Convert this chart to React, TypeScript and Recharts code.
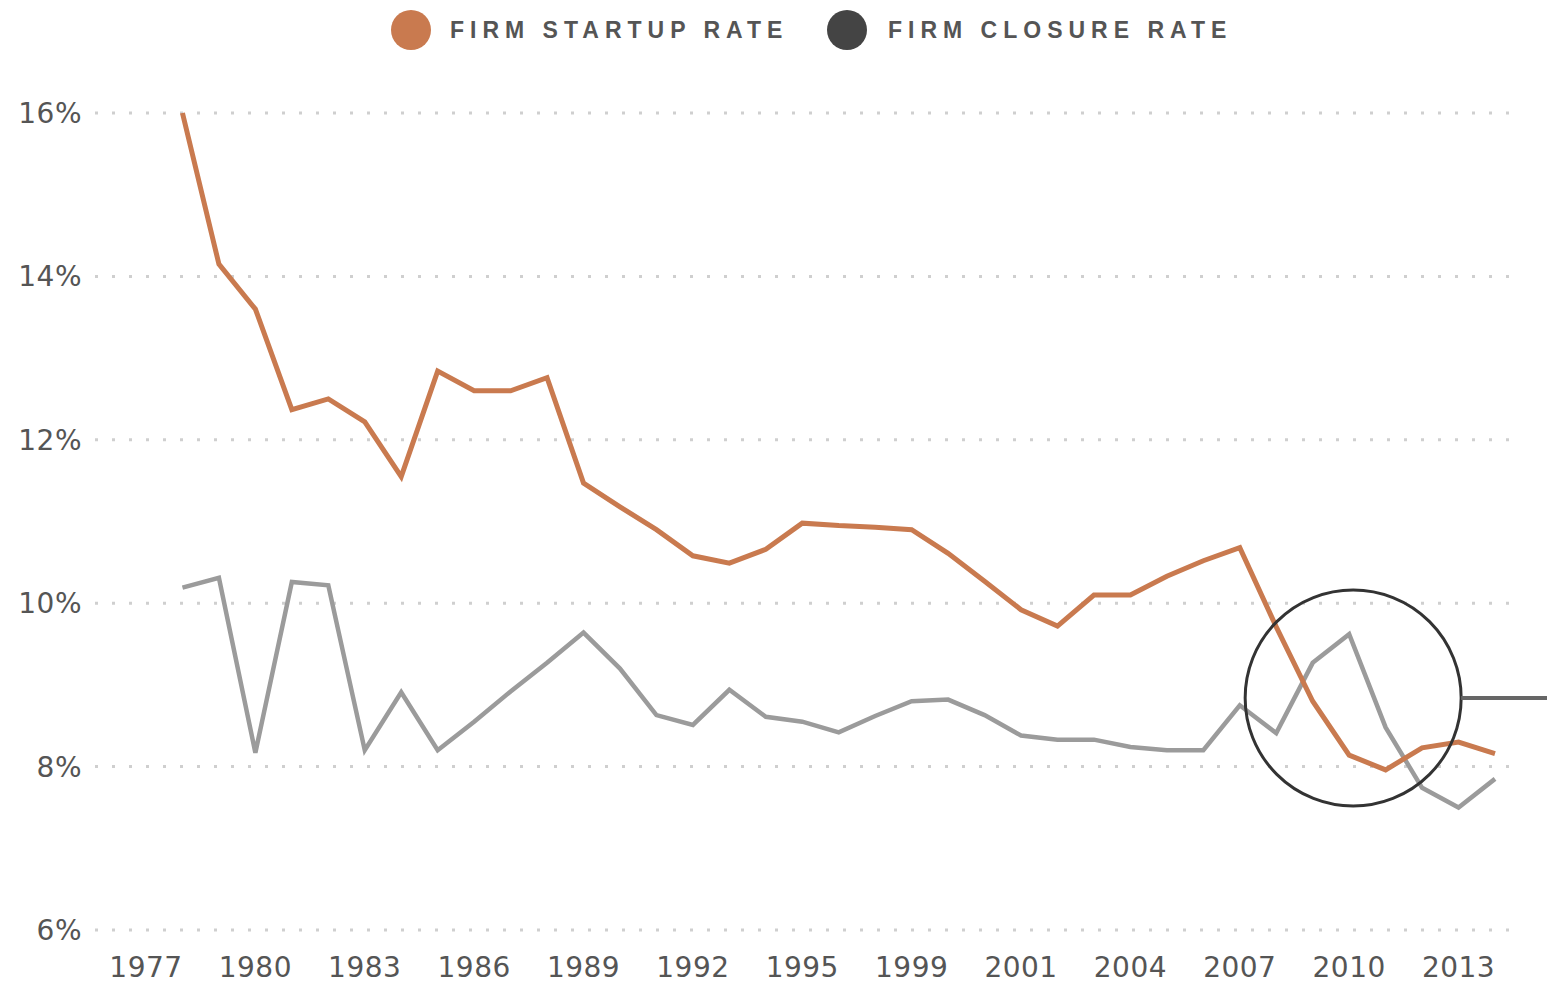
import React from "react";
import { LineChart, Line, XAxis, YAxis, CartesianGrid, Legend, ReferenceDot } from "recharts";

const years = [1977, 1978, 1979, 1980, 1981, 1982, 1983, 1984, 1985, 1986, 1987, 1988, 1989, 1990, 1991, 1992, 1993, 1994, 1995, 1996, 1997, 1998, 1999, 2000, 2001, 2002, 2003, 2004, 2005, 2006, 2007, 2008, 2009, 2010, 2011, 2012, 2013, 2014];

const startupRate = [null, 16.0, 14.15, 13.6, 12.37, 12.5, 12.22, 11.55, 12.84, 12.6, 12.6, 12.76, 11.47, 11.18, 10.9, 10.58, 10.49, 10.66, 10.98, 10.95, 10.93, 10.9, 10.61, 10.27, 9.92, 9.72, 10.1, 10.1, 10.33, 10.52, 10.68, 9.71, 8.8, 8.14, 7.96, 8.23, 8.3, 8.16];

const closureRate = [null, 10.19, 10.31, 8.17, 10.26, 10.22, 8.2, 8.91, 8.2, 8.55, 8.92, 9.27, 9.64, 9.2, 8.63, 8.51, 8.94, 8.61, 8.55, 8.42, 8.62, 8.8, 8.82, 8.63, 8.38, 8.33, 8.33, 8.24, 8.2, 8.2, 8.75, 8.41, 9.27, 9.62, 8.48, 7.74, 7.5, 7.85];

const tickYears = ["1977", "1980", "1983", "1986", "1989", "1992", "1995", "1998", "2001", "2004", "2007", "2010", "2013"];
const tickLabels = ["1977", "1980", "1983", "1986", "1989", "1992", "1995", "1999", "2001", "2004", "2007", "2010", "2013"];
const yTicks = [6, 8, 10, 12, 14, 16];

const seriesNames = ["FIRM STARTUP RATE", "FIRM CLOSURE RATE"];
const ORANGE = "#C97A4F";
const GRAY = "#9B9B9B";
const DARK = "#444444";

const annotation = { year: "2010", value: 8.84 };

const data = years.map((y, i) => ({
  year: String(y),
  startup: startupRate[i],
  closure: closureRate[i],
}));

const labelFont = "'DejaVu Sans', sans-serif";

const XTick = (props: any) => {
  const { x, y, payload } = props;
  const idx = tickYears.indexOf(payload.value);
  const label = idx >= 0 ? tickLabels[idx] : payload.value;
  return (
    <text x={x} y={y + 39} textAnchor="middle" fill="#555" fontSize={28} fontFamily={labelFont} letterSpacing={0.5}>
      {label}
    </text>
  );
};

const YTick = (props: any) => {
  const { y, payload } = props;
  return (
    <text x={82} y={y} dy={10} textAnchor="end" fill="#555" fontSize={28} fontFamily={labelFont} letterSpacing={0.5}>
      {payload.value}%
    </text>
  );
};

const LegendContent = () => {
  const textStyle: React.CSSProperties = {
    position: "absolute",
    top: 16,
    fontFamily: "'Liberation Sans', Arial, sans-serif",
    fontWeight: 700,
    fontSize: 23,
    letterSpacing: 6,
    color: "#555",
    lineHeight: "28px",
    whiteSpace: "nowrap",
  };
  const dot = (left: number, color: string): React.CSSProperties => ({
    position: "absolute",
    left: left - 20,
    top: 10,
    width: 40,
    height: 40,
    borderRadius: "50%",
    background: color,
  });
  return (
    <div style={{ position: "relative", width: 1547, height: 60 }}>
      <div style={dot(411, ORANGE)} />
      <div style={{ ...textStyle, left: 450 }}>{seriesNames[0]}</div>
      <div style={dot(847, DARK)} />
      <div style={{ ...textStyle, left: 888 }}>{seriesNames[1]}</div>
    </div>
  );
};

const CircleShape = (props: any) => {
  const { cx, cy, r } = props;
  return (
    <g>
      <circle cx={cx + 4} cy={cy} r={r} fill="none" stroke="#333" strokeWidth={3} />
      <line x1={cx + 4 + r} y1={cy} x2={cx + r + 200} y2={cy} stroke="#666" strokeWidth={4} />
    </g>
  );
};

export default function App() {
  return (
    <div style={{ position: "absolute", left: 0, top: 0, width: 1547, height: 986, background: "#fff" }}>
      <LineChart width={1547} height={986} data={data} margin={{ top: 113, right: 37, bottom: 0, left: 0 }}>
        <CartesianGrid vertical={false} stroke="#cfcfcf" strokeWidth={3} strokeDasharray="3 14" />
        <XAxis
          dataKey="year"
          ticks={tickYears}
          interval={0}
          tick={<XTick />}
          axisLine={false}
          tickLine={false}
          height={56}
          padding={{ left: 51, right: 15 }}
        />
        <YAxis
          domain={[6, 16]}
          ticks={yTicks}
          tick={<YTick />}
          axisLine={false}
          tickLine={false}
          width={95}
        />
        <Legend verticalAlign="middle" layout="horizontal" content={<LegendContent />} wrapperStyle={{ top: 0, left: 0, width: 1547, height: 60 }} />
        <Line type="linear" dataKey="closure" name={seriesNames[1]} stroke={GRAY} strokeWidth={4.5} dot={false} isAnimationActive={false} connectNulls={false} />
        <Line type="linear" dataKey="startup" name={seriesNames[0]} stroke={ORANGE} strokeWidth={5} dot={false} isAnimationActive={false} connectNulls={false} />
        <ReferenceDot x={annotation.year} y={annotation.value} r={108} ifOverflow="visible" shape={<CircleShape />} />
      </LineChart>
    </div>
  );
}
